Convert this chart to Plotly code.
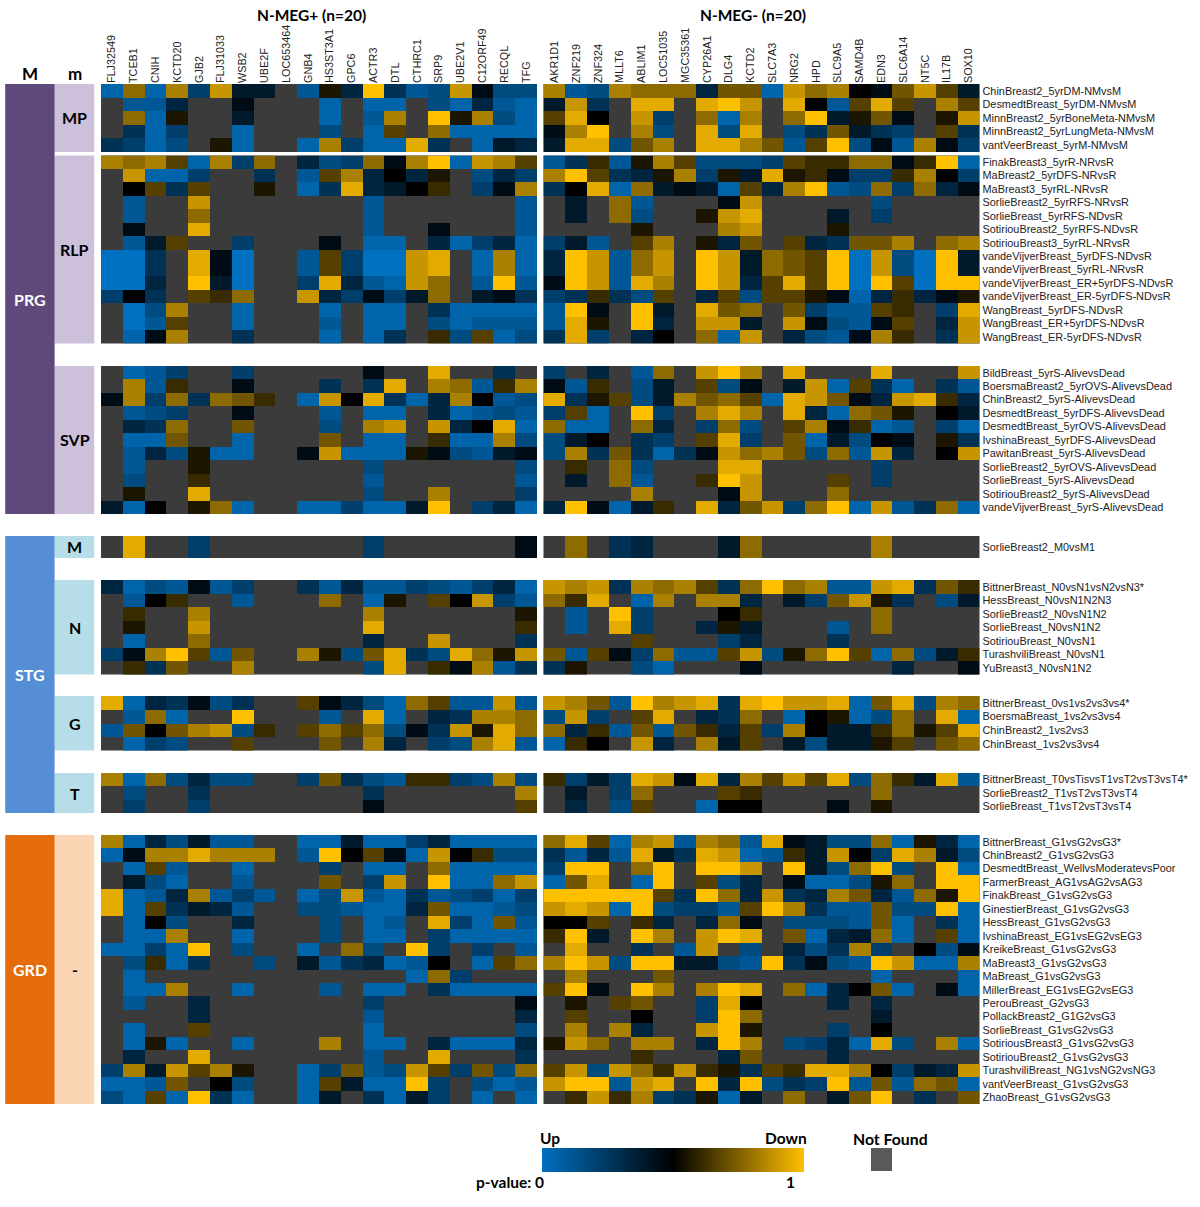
import plotly.graph_objects as go

W, H = 1200, 1207
_ = None  # gene not found in the data set

genes_pos = ["FLJ32549", "TCEB1", "CNIH", "KCTD20", "GJB2", "FLJ31033", "WSB2", "UBE2F", "LOC653464", "GNB4",
             "HS3ST3A1", "GPC6", "ACTR3", "DTL", "CTHRC1", "SRP9", "UBE2V1", "C12ORF49", "RECQL", "TFG"]
genes_neg = ["AKR1D1", "ZNF219", "ZNF324", "MLLT6", "ABLIM1", "LOC51035", "MGC35361", "CYP26A1", "DLG4", "KCTD2",
             "SLC7A3", "NRG2", "HPD", "SLC9A5", "SAMD4B", "EDN3", "SLC6A14", "NT5C", "IL17B", "SOX10"]

# colour levels: -9 = full blue (up), 0 = black, 9 = full gold (down)
mp_names = ["ChinBreast2_5yrDM-NMvsM", "DesmedtBreast_5yrDM-NMvsM", "MinnBreast2_5yrBoneMeta-NMvsM",
            "MinnBreast2_5yrLungMeta-NMvsM", "vantVeerBreast_5yrM-NMvsM"]
mp_pos = [
    [-8, 5, -8, 6, -5, 7, -2, -2, _, -7, 1, -3, 9, -4, -7, -6, 7, -1, -6, -6],
    [_, -7, -7, -3, _, _, -1, _, _, _, -8, _, -8, -8, _, -6, -8, -3, -7, -8],
    [_, 5, -8, 1, _, _, -2, _, _, _, -8, _, -7, 6, _, 9, 1, 6, -6, -8],
    [_, -4, -8, -5, _, _, -8, _, _, _, -6, _, -8, 3, _, 5, -8, -8, -8, -8],
    [-4, -5, -8, -6, _, 1, -8, _, _, -8, 6, -5, -8, -8, 8, -4, _, -8, -2, -3],
]
mp_neg = [
    [6, -7, -6, 6, 5, 5, 5, -3, 4, 4, -8, 7, 5, 6, 0, -1, 4, 7, 3, -2],
    [-2, 7, -4, _, 8, 8, _, 8, 9, 7, _, 8, 0, -7, 3, 8, 3, _, 6, 3],
    [3, 8, 0, _, 7, -5, _, 5, -8, 6, _, 5, 9, -2, 1, 4, -1, _, 1, 7],
    [-1, 6, 9, _, 6, -6, _, 8, -6, 8, _, -6, -4, 4, -2, -4, -5, _, 3, -4],
    [-2, 8, 8, -6, 4, 6, _, 8, 8, 6, 4, -7, 3, 9, -6, -1, -7, 6, -1, -5],
]

rlp_names = ["FinakBreast3_5yrR-NRvsR", "MaBreast2_5yrDFS-NRvsR", "MaBreast3_5yrRL-NRvsR",
             "SorlieBreast2_5yrRFS-NRvsR", "SorlieBreast_5yrRFS-NDvsR", "SotiriouBreast2_5yrRFS-NDvsR",
             "SotiriouBreast3_5yrRL-NRvsR", "vandeVijverBreast_5yrDFS-NDvsR", "vandeVijverBreast_5yrRL-NRvsR",
             "vandeVijverBreast_ER+5yrDFS-NDvsR", "vandeVijverBreast_ER-5yrDFS-NDvsR", "WangBreast_5yrDFS-NDvsR",
             "WangBreast_ER+5yrDFS-NDvsR", "WangBreast_ER-5yrDFS-NDvsR"]
rlp_pos = [
    [6, 5, 6, 3, -8, 6, -5, 5, _, -3, -6, -5, 5, -1, 6, 9, -8, 7, 6, 3],
    [_, 7, -8, -8, -5, _, _, -4, _, -7, 3, 6, -3, 0, -3, 1, _, -6, -3, -5],
    [_, 0, 3, -4, 3, _, _, 1, _, -8, -4, 8, -3, -2, 0, 2, _, -5, -1, 6],
    [_, -7, _, _, 7, _, _, _, _, _, _, _, -7, _, _, _, _, _, _, -7],
    [_, -7, _, _, 5, _, _, _, _, _, _, _, -7, _, _, _, _, _, _, -7],
    [_, -1, _, _, 8, _, _, _, _, _, _, _, -7, _, _, -1, _, _, _, -7],
    [_, -7, -2, 3, _, _, -5, _, _, _, -1, _, -8, -8, _, -3, -8, -5, -3, -8],
    [-9, -9, -4, _, 8, -1, -9, _, _, -7, 3, -5, -9, -9, 7, 8, _, -8, 6, -8],
    [-9, -9, -4, _, 8, -1, -9, _, _, -7, 3, -5, -9, -9, 7, 8, _, -8, 6, -8],
    [-9, -9, -3, _, 9, -2, -9, _, _, -5, 8, -3, -7, -8, 7, 5, _, -7, 9, -7],
    [-5, 0, -4, _, 3, 2, 5, _, _, 7, -3, -5, -1, -5, -2, 5, _, -2, -1, -4],
    [_, -9, -6, 6, _, _, -8, _, _, _, -8, _, -8, -8, _, -4, -8, -8, -8, -8],
    [_, -9, -7, 3, _, _, -8, _, _, _, -7, _, -8, -8, _, -6, -8, -7, -7, -7],
    [_, -8, -1, 6, _, _, -4, _, _, _, -8, _, -8, -4, _, 2, -6, 3, -8, -6],
]
rlp_neg = [
    [-7, -4, 2, -7, 1, 6, 3, -6, -6, -6, -5, 3, 2, 2, 5, 5, -1, 2, 9, -8],
    [6, 9, 3, -4, -3, 1, 6, -5, 1, -2, 8, 1, 2, -1, -5, -5, 2, 6, 0, -5],
    [-4, 0, 8, -8, 5, -2, -1, -2, -8, 3, -3, 6, 9, -7, -6, 5, -5, 5, -3, -1],
    [_, -2, _, 5, -7, _, _, _, -1, 7, _, _, _, _, _, -6, _, _, _, _],
    [_, -2, _, 5, -6, _, _, 1, 7, 8, _, _, _, -2, _, -5, _, _, _, _],
    [_, _, _, _, 1, _, _, _, 6, 7, _, _, _, 1, _, _, _, _, _, _],
    [-5, -2, -7, _, 3, 6, _, 1, -3, 4, _, 3, -3, -4, 4, 4, 6, _, 5, 6],
    [-3, 9, 7, -7, 5, 7, _, 9, 7, -2, 5, 4, 3, 9, -9, 7, -6, -9, 9, -2],
    [-3, 9, 7, -7, 5, 7, _, 9, 7, -2, 5, 4, 3, 9, -9, 7, -6, -9, 9, -2],
    [-1, 9, 7, -7, 8, 6, _, 9, 7, -3, 3, 8, 3, 9, -9, 9, 3, -9, 9, 9],
    [-5, -4, 2, -4, -6, 3, _, -3, 3, -6, 3, 3, 1, -1, -8, -3, 2, -3, -1, 1],
    [-7, 9, -1, _, 9, -2, _, 8, 4, 5, _, 4, -5, -7, -7, 3, 2, _, -5, 8],
    [-7, 8, 1, _, 9, -3, _, 7, 7, -2, _, 7, -1, -6, -7, -1, 3, _, -3, 7],
    [-4, 8, -5, _, -3, 0, _, 5, -8, 7, _, -3, -6, -7, -1, 6, 2, _, -4, 7],
]

svp_names = ["BildBreast_5yrS-AlivevsDead", "BoersmaBreast2_5yrOVS-AlivevsDead", "ChinBreast2_5yrS-AlivevsDead",
             "DesmedtBreast_5yrDFS-AlivevsDead", "DesmedtBreast_5yrOVS-AlivevsDead", "IvshinaBreast_5yrDFS-AlivevsDead",
             "PawitanBreast_5yrS-AlivevsDead", "SorlieBreast2_5yrOVS-AlivevsDead", "SorlieBreast_5yrS-AlivevsDead",
             "SotiriouBreast2_5yrS-AlivevsDead", "vandeVijverBreast_5yrS-AlivevsDead"]
svp_pos = [
    [_, -8, -7, -5, _, _, -5, _, _, _, _, _, -1, _, _, 8, _, _, -4, _],
    [_, 6, -7, 2, _, _, -1, _, _, _, -4, _, -4, 8, _, 6, 5, -7, 2, 6],
    [-1, 6, -5, 5, -4, 5, 4, 2, _, -8, 7, 0, 8, -4, -8, -3, 6, 0, -7, -6],
    [_, -7, -6, -5, _, _, -1, _, _, _, -7, _, -8, -8, _, -3, -8, -7, -6, -7],
    [_, -3, -4, 5, _, _, 4, _, _, _, -6, _, 6, 7, _, 7, -3, 0, 8, -8],
    [_, -8, -8, 4, _, _, -8, _, _, _, 4, _, -8, -8, _, 2, -8, -8, 6, -6],
    [_, -7, -3, -6, 1, -8, -8, _, _, -1, 7, -8, -8, -8, 1, -1, -6, -7, -2, -1],
    [_, -7, _, _, 1, _, _, _, _, _, _, _, -6, _, _, _, _, _, _, -6],
    [_, -6, _, _, 2, _, _, _, _, _, _, _, -7, _, _, _, _, _, _, -7],
    [_, 1, _, _, 8, _, _, _, _, _, _, _, -6, _, _, 6, _, _, _, -5],
    [-2, -8, 0, _, 1, 5, -8, _, _, -8, -8, -5, -8, -8, -2, 9, _, -5, -3, -8],
]
svp_neg = [
    [-5, _, -3, _, -7, 5, _, 7, 9, 6, _, 8, _, _, _, 8, _, _, _, 7],
    [-1, -7, 2, _, -6, -2, _, 3, -6, -1, _, -2, 7, -8, 3, -4, -8, _, -4, -7],
    [8, -4, 1, 3, -6, -2, 6, 4, 5, 3, -8, 8, 7, 4, -1, -3, 7, 8, 2, -3],
    [-5, 3, -8, _, 9, -5, _, 6, 8, 6, _, 8, -3, -8, 5, 4, 1, _, 0, -2],
    [5, -8, -8, _, 5, -3, _, -5, 5, -6, _, 3, 6, -1, 2, -8, -7, _, -5, -8],
    [-6, -2, 0, _, -4, -5, _, 3, 8, -5, _, 4, -8, -2, -6, 0, -1, _, 1, -4],
    [-6, 6, -4, 4, -4, -8, -4, -1, 7, 5, 6, 4, -6, 5, -7, 7, -3, _, 0, 7],
    [_, 2, _, 5, -6, _, _, _, 8, 8, _, _, _, _, _, -5, _, _, _, _],
    [_, -2, _, 5, -7, _, _, 2, 9, 7, _, _, _, 3, _, -5, _, _, _, _],
    [_, _, _, _, 6, _, _, _, -1, 7, _, _, _, 5, _, _, _, _, _, _],
    [-3, 9, -1, -8, -2, 2, _, 8, -3, 4, 7, -5, 5, 9, -8, 7, -7, -4, 5, -8],
]

m_names = ["SorlieBreast2_M0vsM1"]
m_pos = [[_, 8, _, _, -5, _, _, _, _, _, _, _, -5, _, _, _, _, _, _, -1]]
m_neg = [[_, 5, _, -4, -3, _, _, _, -2, 5, _, _, _, _, _, 6, _, _, _, _]]

n_names = ["BittnerBreast_N0vsN1vsN2vsN3*", "HessBreast_N0vsN1N2N3", "SorlieBreast2_N0vsN1N2", "SorlieBreast_N0vsN1N2",
           "SotiriouBreast_N0vsN1", "TurashviliBreast_N0vsN1", "YuBreast3_N0vsN1N2"]
n_pos = [
    [-3, -8, -6, -7, -1, -7, -5, _, _, -4, -7, -3, -7, -7, -5, -6, -7, -5, -3, -8],
    [_, -7, 0, 2, _, _, -7, _, _, _, 5, _, -8, 1, _, 3, 0, 7, -5, -7],
    [_, 2, _, _, 6, _, _, _, _, _, _, _, 6, _, _, _, _, _, _, 1],
    [_, 1, _, _, 7, _, _, _, _, _, _, _, 8, _, _, _, _, _, _, 2],
    [_, -8, _, _, 5, _, _, _, _, _, _, _, -3, _, _, 7, _, _, _, -4],
    [-5, -1, 6, 9, 3, -7, 4, _, _, 6, 1, -6, 4, 8, -4, -6, 8, 5, 1, 7],
    [_, 2, -4, 4, _, _, 6, _, _, _, _, _, -6, 8, _, 2, -1, 6, -7, -4],
]
n_neg = [
    [7, 6, 7, -4, 6, 5, 6, 3, -4, 5, 9, 5, 6, -7, -7, 7, 8, -4, 4, 2],
    [5, 2, 8, _, -8, 6, _, 6, 6, -3, _, -2, -5, 4, 7, 1, -4, _, -6, -2],
    [_, -7, _, 9, -5, _, _, _, 0, 2, _, _, _, _, _, 5, _, _, _, _],
    [_, -7, _, 8, -5, _, _, -3, 1, -2, _, _, _, -7, _, 5, _, _, _, _],
    [_, _, _, _, 3, _, _, _, -5, -3, _, _, _, -4, _, _, _, _, _, _],
    [4, -7, 3, -1, -5, 5, -7, -7, 3, 7, -6, 1, 5, 9, 3, -8, 5, -6, -2, 2],
    [-4, 1, _, _, -6, -8, _, _, _, -1, _, _, _, _, _, _, -3, _, _, -1],
]

g_names = ["BittnerBreast_0vs1vs2vs3vs4*", "BoersmaBreast_1vs2vs3vs4", "ChinBreast2_1vs2vs3", "ChinBreast_1vs2vs3vs4"]
g_pos = [
    [8, -8, -3, -4, -1, -6, -4, _, _, 3, -1, -3, -6, -8, 5, 3, -7, -7, 7, -7],
    [_, -7, 5, -8, _, _, 9, _, _, _, -7, _, 8, -8, _, -3, -4, 6, 6, 5],
    [-7, 4, 0, 4, 6, 7, -6, 2, _, 3, 5, 3, 5, -6, -1, -4, 7, 1, 8, 5],
    [_, -8, -5, -6, _, _, 3, _, _, _, 4, _, 6, -3, _, -5, -6, 6, 8, -7],
]
g_neg = [
    [7, 6, 4, -7, 9, 6, 7, 8, -4, 8, 9, 7, 7, 8, -8, 4, 8, -6, 6, 5],
    [-6, 7, -5, _, 3, 8, _, -3, -4, 5, _, -8, 0, 1, -8, -6, 5, _, 8, -8],
    [5, -3, 2, -7, 4, -7, 4, 2, -3, 3, -5, 6, 0, -2, -2, 2, 5, 1, 3, 8],
    [-8, 2, 0, _, 7, -3, _, 6, -2, 3, _, -2, -6, -2, -2, 1, 3, _, 4, 5],
]

t_names = ["BittnerBreast_T0vsTisvsT1vsT2vsT3vsT4*", "SorlieBreast2_T1vsT2vsT3vsT4", "SorlieBreast_T1vsT2vsT3vsT4"]
t_pos = [
    [6, -8, 5, -6, -3, -6, -6, _, _, -5, 4, -4, -6, -7, 2, 2, -5, -6, 6, -6],
    [_, -6, _, _, -4, _, _, _, _, _, _, _, -4, _, _, _, _, _, _, 6],
    [_, -5, _, _, -5, _, _, _, _, _, _, _, -1, _, _, _, _, _, _, 3],
]
t_neg = [
    [2, -5, -2, -5, 8, 7, -1, 8, -3, 6, 3, 7, 3, 8, -6, 5, 2, -2, 8, -7],
    [_, -2, _, -5, 5, _, _, _, 3, 2, _, _, _, _, _, 5, _, _, _, _],
    [_, -3, _, -6, 3, _, _, -8, 0, 0, _, _, _, -1, _, 1, _, _, _, _],
]

grd_names = ["BittnerBreast_G1vsG2vsG3*", "ChinBreast2_G1vsG2vsG3", "DesmedtBreast_WellvsModeratevsPoor",
             "FarmerBreast_AG1vsAG2vsAG3", "FinakBreast_G1vsG2vsG3", "GinestierBreast_G1vsG2vsG3",
             "HessBreast_G1vsG2vsG3", "IvshinaBreast_EG1vsEG2vsEG3", "KreikeBreast_G1vsG2vsG3",
             "MaBreast3_G1vsG2vsG3", "MaBreast_G1vsG2vsG3", "MillerBreast_EG1vsEG2vsEG3", "PerouBreast_G2vsG3",
             "PollackBreast2_G1G2vsG3", "SorlieBreast_G1vsG2vsG3", "SotiriousBreast3_G1vsG2vsG3",
             "SotiriouBreast2_G1vsG2vsG3", "TurashviliBreast_NG1vsNG2vsNG3", "vantVeerBreast_G1vsG2vsG3",
             "ZhaoBreast_G1vsG2vsG3"]
grd_pos = [
    [6, -8, -3, -6, -2, -7, -7, _, _, -8, -8, -2, -8, -8, -5, -3, -8, -8, -8, -8],
    [-8, -1, 6, 6, 8, 6, 6, 6, _, -7, 9, 0, 3, -1, -8, 7, 0, 2, -6, -6],
    [_, -8, 3, -7, _, _, -8, _, _, _, -5, _, -8, -8, _, 5, -8, -8, -8, -8],
    [_, -2, -6, -8, _, _, -7, _, _, _, 4, _, -5, 7, _, 9, -8, -8, 5, 7],
    [8, -8, -7, -3, 6, -7, -5, -7, _, -8, -6, 7, -7, -8, -4, -7, -6, -5, -8, -5],
    [8, -8, 3, -4, -2, -3, -7, _, _, -6, -6, -7, -8, -8, -3, 4, -8, -8, -7, -6],
    [_, -8, 0, -6, _, _, -3, _, _, _, -6, _, -8, -7, _, 8, -5, -8, 4, -7],
    [_, -8, -8, 6, _, _, -8, _, _, _, -6, _, -8, -8, _, -5, -8, -8, -8, -8],
    [-8, -8, -5, -8, 9, _, -6, _, _, -8, _, 5, -6, _, 9, -5, _, -5, _, -7],
    [_, -6, 2, -8, -4, _, _, -6, _, -2, -7, -4, -3, -8, -7, 0, _, -8, 3, 5],
    [_, -8, _, _, _, _, _, _, _, _, _, _, _, _, -8, 5, -5, _, _, _],
    [_, -8, -8, 6, _, _, -8, _, _, _, -7, _, -8, -8, _, -4, -8, -8, -8, -8],
    [_, -7, _, _, -3, _, _, _, _, _, _, _, -5, _, _, _, _, _, _, -1],
    [_, _, _, _, -3, _, _, _, _, _, _, _, -7, _, _, _, _, _, _, -3],
    [_, -8, _, _, 3, _, _, _, _, _, _, _, -8, _, _, _, _, _, _, -6],
    [_, -8, 1, -8, _, _, -8, _, _, _, 6, _, -8, -8, _, -3, -8, -8, -8, -3],
    [_, -3, _, _, 8, _, _, _, _, _, _, _, -7, _, _, 8, _, _, _, -4],
    [-5, 6, -2, 7, 3, 6, 1, _, _, -8, -5, 4, -7, -6, 7, 3, -5, 4, -6, 5],
    [-8, -8, -7, 4, _, 0, -6, _, _, -8, 3, -2, -8, -8, 9, -5, _, -6, -8, -7],
    [-6, -8, 3, -8, 9, -4, -8, _, _, -8, -2, _, -4, -8, -2, -5, _, -8, _, -8],
]
grd_neg = [
    [5, 8, 3, -8, 6, 7, -7, 6, 5, -7, 8, -1, -2, -6, -6, 5, -8, 1, -3, -8],
    [-4, -7, -3, -7, 8, -2, -4, 8, 7, -8, -7, 2, -2, 7, 0, -5, 8, 6, -2, -6],
    [-5, 9, 9, _, 5, 9, _, 9, 9, 7, _, 9, -2, -6, 5, 9, -6, _, 9, -8],
    [-8, 4, 8, _, -8, 9, _, 3, -6, -3, _, -1, -8, -8, -6, 1, 5, _, 9, 9],
    [9, 9, 9, 9, 9, 3, -4, 9, 5, -3, 7, -4, -3, 6, 4, -3, -7, 5, 1, 9],
    [7, 8, 7, -8, 9, -6, -5, -5, -7, 3, 9, 6, -4, -7, -7, 4, -6, -6, 9, -8],
    [0, 0, 3, _, 2, -3, _, -3, 5, -1, _, -6, -6, -6, -7, 4, -8, _, -4, -8],
    [2, 9, -2, _, 9, 6, _, 7, 9, 8, _, 4, -8, -3, -2, 5, -8, _, 3, -8],
    [_, 8, _, _, -4, _, -7, 7, _, -6, _, -3, -6, -4, 6, -5, _, 0, -6, -1],
    [6, 9, 7, -6, 9, 9, -2, -2, -6, -7, 9, -4, -1, -6, -7, 9, 7, -8, -8, 6],
    [_, 6, _, _, _, 4, _, _, _, _, _, _, _, _, _, -8, _, _, _, -8],
    [3, 9, -1, _, 9, 6, _, 6, 9, 8, _, 5, -8, -3, 0, 4, -8, _, -1, -8],
    [_, 1, _, 3, 4, _, _, -5, 8, 0, _, _, _, -3, _, -3, _, _, _, _],
    [_, 3, _, _, 0, _, _, -5, 9, 5, _, _, _, _, _, -2, _, _, _, _],
    [_, 6, _, 6, -3, _, _, 7, 9, 1, _, _, _, -5, _, 0, _, _, _, _],
    [1, 7, 5, _, 6, 6, _, -3, 9, 6, _, -6, -5, -3, -8, 8, -6, _, 6, -8],
    [_, _, _, _, 2, _, _, _, -3, 4, _, _, _, -3, _, _, _, _, _, _],
    [3, 7, -6, 7, 5, 2, 7, 2, 1, -4, 3, 2, 8, 8, 6, 0, -5, -2, -3, 7],
    [7, 9, 9, -7, 7, 8, _, 9, -3, 9, -6, -4, -5, 9, -7, 4, -7, 5, 4, -8],
    [_, 2, 7, 2, 6, -5, -4, 1, -8, -2, _, 5, _, -2, 4, 9, _, -4, _, 4],
]

# (m label, row names, left block, right block, top px, bottom px, strip colour)
groups = [
    ("MP", mp_names, mp_pos, mp_neg, 84, 152, "#CCC0DA"),
    ("RLP", rlp_names, rlp_pos, rlp_neg, 155.5, 343.5, "#CCC0DA"),
    ("SVP", svp_names, svp_pos, svp_neg, 366, 514, "#CCC0DA"),
    ("M", m_names, m_pos, m_neg, 536, 558, "#B7DEE8"),
    ("N", n_names, n_pos, n_neg, 580, 674.5, "#B7DEE8"),
    ("G", g_names, g_pos, g_neg, 696, 750.5, "#B7DEE8"),
    ("T", t_names, t_pos, t_neg, 773, 813, "#B7DEE8"),
    ("-", grd_names, grd_pos, grd_neg, 835, 1104, "#FCD5B5"),
]
big_groups = [("PRG", 84, 514, "#5F497A"), ("STG", 536, 813, "#558ED5"), ("GRD", 835, 1104, "#E46C0A")]

LEFT_X = (101, 537)
RIGHT_X = (543.5, 979.5)
BOLD = "Lato"
ROW_FONT = dict(family="Liberation Sans", size=10.9, color="#222222")
GENE_FONT = dict(family="Liberation Sans", size=10.8, color="#222222")


def px_x(x):
    return x / W


def px_y(y):
    return 1 - y / H


def label(text, x, y, size=16, color="black", xanchor="center"):
    return dict(text="<b>%s</b>" % text, x=px_x(x), y=px_y(y), xref="paper", yref="paper", showarrow=False,
                xanchor=xanchor, yanchor="middle", font=dict(family=BOLD, size=size, color=color))


def strip(x0, x1, y0, y1, color):
    return dict(type="rect", xref="paper", yref="paper", x0=px_x(x0), x1=px_x(x1), y0=px_y(y1), y1=px_y(y0),
                fillcolor=color, line_width=0, layer="below")


fig = go.Figure()
layout_axes = {}
shapes = []
annotations = []
n = 0
for g_i, (m_label, names, left, right, top, bottom, strip_color) in enumerate(groups):
    shapes.append(strip(54.6, 94.2, top, bottom, strip_color))
    annotations.append(label(m_label, 74.5, (top + bottom) / 2))
    for block, genes, span, is_right in ((left, genes_pos, LEFT_X, False), (right, genes_neg, RIGHT_X, True)):
        n += 1
        suffix = "" if n == 1 else str(n)
        fig.add_trace(go.Heatmap(z=block, x=genes, y=names, coloraxis="coloraxis", xaxis="x" + suffix,
                                 yaxis="y" + suffix, hoverongaps=False))
        layout_axes["xaxis" + suffix] = dict(
            domain=[px_x(span[0]), px_x(span[1])], anchor="y" + suffix, side="top", showgrid=False, zeroline=False,
            showticklabels=g_i == 0, tickangle=-90, tickfont=GENE_FONT, ticks="", type="category",
            automargin=False, showline=False)
        layout_axes["yaxis" + suffix] = dict(
            domain=[px_y(bottom), px_y(top)], anchor="x" + suffix, side="right", showgrid=False, zeroline=False,
            showticklabels=is_right, tickfont=ROW_FONT, ticks="", type="category", autorange="reversed",
            automargin=False, showline=False, ticklabelstandoff=2)

for name, top, bottom, color in big_groups:
    shapes.append(strip(5.2, 54.6, top, bottom, color))
    annotations.append(label(name, 30, (top + bottom) / 2, color="white"))

# column headers
annotations.append(label("M", 30, 73, size=17))
annotations.append(label("m", 75, 73, size=17))
annotations.append(label("N-MEG+ (n=20)", 311.5, 15, size=15.5))
annotations.append(label("N-MEG- (n=20)", 753, 15, size=15.5))

# legend texts and swatch
annotations.append(label("Up", 550, 1138, size=15.5))
annotations.append(label("Down", 786, 1138, size=15.5))
annotations.append(label("Not Found", 890, 1138, size=15.8))
annotations.append(label("p-value: 0", 546, 1182, size=15.5, xanchor="right"))
annotations.append(label("1", 790, 1182, size=15.5))
shapes.append(strip(871, 892, 1148, 1171, "#595959"))

fig.update_layout(
    width=W, height=H, margin=dict(l=0, r=0, t=0, b=0), showlegend=False,
    paper_bgcolor="white", plot_bgcolor="#3B3B3B",
    shapes=shapes, annotations=annotations,
    coloraxis=dict(
        cmin=-9, cmax=9,
        colorscale=[[0, "#0070C0"], [0.5, "#000000"], [1, "#FFC000"]],
        colorbar=dict(orientation="h", lenmode="pixels", len=262, thickness=24, thicknessmode="pixels",
                      x=px_x(542), xanchor="left", y=px_y(1172), yanchor="bottom", outlinewidth=0,
                      showticklabels=False, ticks="", xpad=0, ypad=0, borderwidth=0),
    ),
    **layout_axes,
)

fig.write_html("out.html", config=dict(displayModeBar=False), post_script="document.body.style.margin='0';")
